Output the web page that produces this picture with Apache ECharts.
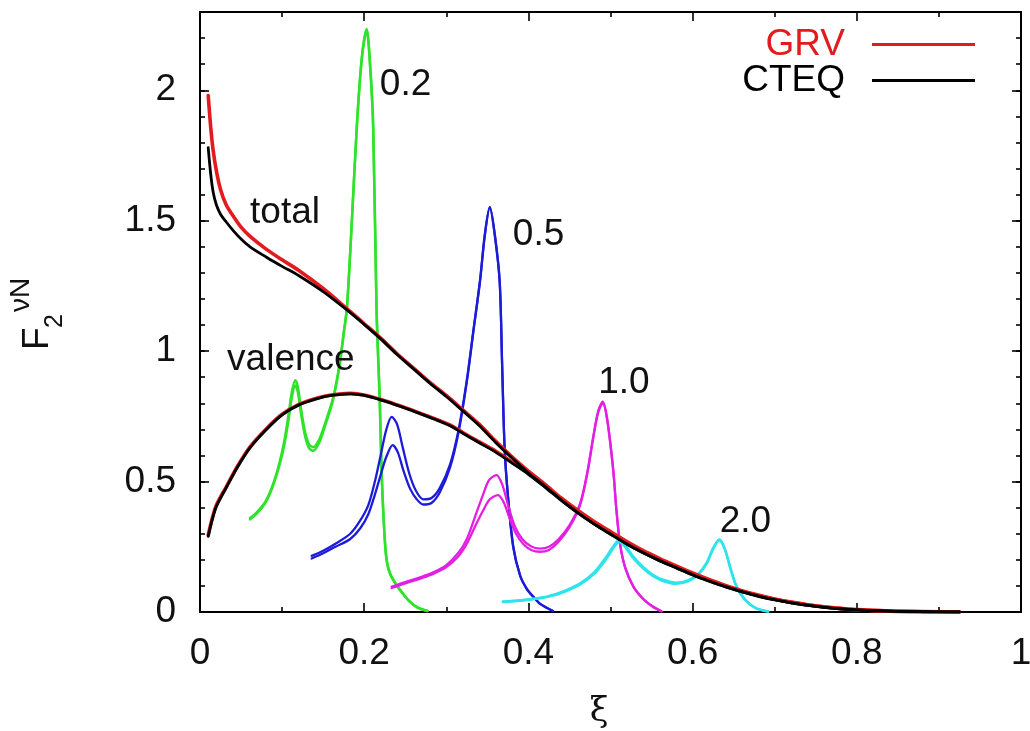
<!DOCTYPE html>
<html>
<head>
<meta charset="utf-8">
<script src="https://cdn.jsdelivr.net/npm/echarts@6/dist/echarts.min.js"></script>
<style>
  html, body { margin: 0; padding: 0; background: #fff; }
  #chart { width: 1030px; height: 731px; }
</style>
</head>
<body>
<div id="chart"></div>
<script>
// Neutrino structure function F2 vs Nachtmann variable xi: total and valence
// (GRV / CTEQ parton densities) plus resonance curves at Q^2 = 0.2, 0.5, 1.0, 2.0 GeV^2.

const xTicks = [0, 0.2, 0.4, 0.6, 0.8, 1];
const yTicks = [0, 0.5, 1, 1.5, 2];

// total F2, GRV
const totalGRV = [
  [0.010, 1.98], [0.013, 1.86], [0.016, 1.77], [0.020, 1.69], [0.025, 1.62], [0.032, 1.56],
  [0.041, 1.515], [0.050, 1.475], [0.061, 1.44], [0.081, 1.39], [0.100, 1.35], [0.120, 1.31],
  [0.150, 1.24], [0.180, 1.16], [0.200, 1.105], [0.220, 1.05], [0.240, 0.99], [0.260, 0.935],
  [0.280, 0.88], [0.300, 0.83], [0.320, 0.775], [0.340, 0.72], [0.360, 0.655], [0.380, 0.595],
  [0.400, 0.54], [0.420, 0.49], [0.440, 0.437], [0.460, 0.39], [0.480, 0.347], [0.500, 0.308],
  [0.520, 0.27], [0.540, 0.235], [0.560, 0.205], [0.580, 0.177], [0.600, 0.15], [0.620, 0.125],
  [0.640, 0.102], [0.660, 0.082], [0.680, 0.065], [0.700, 0.05], [0.720, 0.038], [0.740, 0.028],
  [0.760, 0.02], [0.780, 0.014], [0.800, 0.009], [0.840, 0.004], [0.880, 0.0015], [0.925, 0.0]
];

// total F2, CTEQ
const totalCTEQ = [
  [0.010, 1.78], [0.013, 1.68], [0.016, 1.61], [0.020, 1.56], [0.025, 1.525], [0.032, 1.495],
  [0.041, 1.46], [0.050, 1.43], [0.061, 1.40], [0.081, 1.36], [0.100, 1.325], [0.120, 1.29],
  [0.150, 1.228], [0.180, 1.155], [0.200, 1.102], [0.220, 1.047], [0.240, 0.987], [0.260, 0.932],
  [0.280, 0.877], [0.300, 0.826], [0.320, 0.771], [0.340, 0.715], [0.360, 0.65], [0.380, 0.59],
  [0.400, 0.533], [0.420, 0.482], [0.440, 0.429], [0.460, 0.381], [0.480, 0.338], [0.500, 0.299],
  [0.520, 0.261], [0.540, 0.227], [0.560, 0.197], [0.580, 0.17], [0.600, 0.143], [0.620, 0.119],
  [0.640, 0.097], [0.660, 0.078], [0.680, 0.061], [0.700, 0.047], [0.720, 0.035], [0.740, 0.026],
  [0.760, 0.018], [0.780, 0.012], [0.800, 0.008], [0.840, 0.003], [0.880, 0.001], [0.925, 0.0]
];

// valence F2, GRV
const valenceGRV = [
  [0.010, 0.295], [0.015, 0.36], [0.020, 0.41], [0.032, 0.48], [0.045, 0.555], [0.061, 0.633],
  [0.080, 0.70], [0.100, 0.758], [0.120, 0.795], [0.142, 0.819], [0.160, 0.832], [0.183, 0.838],
  [0.200, 0.832], [0.223, 0.812], [0.244, 0.79], [0.264, 0.767], [0.285, 0.742], [0.305, 0.716],
  [0.320, 0.688], [0.340, 0.652], [0.360, 0.617], [0.380, 0.575], [0.400, 0.532], [0.420, 0.484],
  [0.440, 0.433], [0.460, 0.386], [0.480, 0.343], [0.500, 0.304], [0.520, 0.266], [0.540, 0.231],
  [0.560, 0.201], [0.580, 0.173], [0.600, 0.147], [0.620, 0.122], [0.640, 0.1], [0.660, 0.08],
  [0.680, 0.063], [0.700, 0.049], [0.720, 0.037], [0.740, 0.027], [0.760, 0.019], [0.780, 0.013],
  [0.800, 0.0085], [0.840, 0.0035], [0.880, 0.0012], [0.925, 0.0]
];

// valence F2, CTEQ
const valenceCTEQ = [
  [0.010, 0.29], [0.015, 0.355], [0.020, 0.405], [0.032, 0.477], [0.045, 0.552], [0.061, 0.63],
  [0.080, 0.697], [0.100, 0.756], [0.120, 0.793], [0.142, 0.817], [0.160, 0.83], [0.183, 0.836],
  [0.200, 0.83], [0.223, 0.81], [0.244, 0.788], [0.264, 0.765], [0.285, 0.74], [0.305, 0.713],
  [0.320, 0.685], [0.340, 0.649], [0.360, 0.613], [0.380, 0.571], [0.400, 0.528], [0.420, 0.479],
  [0.440, 0.428], [0.460, 0.38], [0.480, 0.337], [0.500, 0.298], [0.520, 0.26], [0.540, 0.226],
  [0.560, 0.196], [0.580, 0.169], [0.600, 0.142], [0.620, 0.118], [0.640, 0.096], [0.660, 0.077],
  [0.680, 0.06], [0.700, 0.046], [0.720, 0.035], [0.740, 0.025], [0.760, 0.018], [0.780, 0.012],
  [0.800, 0.008], [0.840, 0.003], [0.880, 0.001], [0.925, 0.0]
];

// resonance region, Q^2 = 0.2
const res02GRV = [
  [0.061, 0.36], [0.070, 0.385], [0.080, 0.425], [0.089, 0.49], [0.097, 0.575], [0.103, 0.66],
  [0.108, 0.76], [0.112, 0.845], [0.116, 0.888], [0.119, 0.865], [0.123, 0.78], [0.128, 0.69],
  [0.133, 0.642], [0.138, 0.632], [0.145, 0.66], [0.152, 0.72], [0.162, 0.82], [0.170, 0.95],
  [0.175, 1.07], [0.179, 1.17], [0.185, 1.5], [0.191, 1.86], [0.197, 2.12], [0.203, 2.235],
  [0.207, 2.11], [0.211, 1.86], [0.215, 1.17], [0.219, 0.81], [0.221, 0.56], [0.224, 0.34],
  [0.227, 0.21], [0.232, 0.145], [0.244, 0.084], [0.255, 0.042], [0.265, 0.018], [0.277, 0.004]
];
const res02CTEQ = [
  [0.061, 0.355], [0.070, 0.38], [0.080, 0.42], [0.089, 0.485], [0.097, 0.565], [0.103, 0.645],
  [0.108, 0.74], [0.112, 0.825], [0.116, 0.868], [0.119, 0.845], [0.123, 0.762], [0.128, 0.674],
  [0.133, 0.627], [0.138, 0.618], [0.145, 0.648], [0.152, 0.71], [0.162, 0.812], [0.170, 0.945],
  [0.175, 1.065], [0.179, 1.165], [0.185, 1.5], [0.191, 1.86], [0.197, 2.12], [0.203, 2.23],
  [0.207, 2.1], [0.211, 1.85], [0.215, 1.16], [0.219, 0.8], [0.221, 0.55], [0.224, 0.335],
  [0.227, 0.205], [0.232, 0.142], [0.244, 0.082], [0.255, 0.041], [0.265, 0.017], [0.277, 0.004]
];

// resonance region, Q^2 = 0.5
const res05GRV = [
  [0.136, 0.215], [0.150, 0.235], [0.165, 0.262], [0.183, 0.30], [0.195, 0.35], [0.205, 0.41],
  [0.213, 0.50], [0.220, 0.60], [0.227, 0.70], [0.2335, 0.748], [0.240, 0.72], [0.247, 0.63],
  [0.255, 0.53], [0.263, 0.465], [0.272, 0.432], [0.282, 0.437], [0.292, 0.475], [0.3045, 0.565],
  [0.315, 0.70], [0.325, 0.89], [0.333, 1.08], [0.341, 1.27], [0.347, 1.45], [0.353, 1.553],
  [0.359, 1.45], [0.365, 1.27], [0.368, 0.95], [0.371, 0.633], [0.375, 0.45], [0.3816, 0.25],
  [0.390, 0.14], [0.398, 0.09], [0.406, 0.059], [0.415, 0.03], [0.430, 0.004]
];
const res05CTEQ = [
  [0.136, 0.205], [0.150, 0.225], [0.165, 0.25], [0.183, 0.28], [0.195, 0.32], [0.205, 0.375],
  [0.213, 0.45], [0.220, 0.525], [0.227, 0.595], [0.2347, 0.64], [0.241, 0.612], [0.248, 0.54],
  [0.256, 0.472], [0.264, 0.432], [0.272, 0.412], [0.282, 0.418], [0.292, 0.458], [0.3045, 0.553],
  [0.315, 0.69], [0.325, 0.882], [0.333, 1.075], [0.341, 1.265], [0.347, 1.445], [0.353, 1.55],
  [0.359, 1.445], [0.365, 1.265], [0.368, 0.945], [0.371, 0.628], [0.375, 0.445], [0.3816, 0.247],
  [0.390, 0.138], [0.398, 0.088], [0.406, 0.058], [0.415, 0.029], [0.430, 0.004]
];

// resonance region, Q^2 = 1.0
const res10GRV = [
  [0.2335, 0.097], [0.250, 0.115], [0.270, 0.135], [0.284, 0.152], [0.300, 0.18], [0.315, 0.228],
  [0.325, 0.28], [0.335, 0.365], [0.345, 0.452], [0.352, 0.505], [0.361, 0.525], [0.368, 0.49],
  [0.375, 0.412], [0.383, 0.332], [0.392, 0.282], [0.403, 0.252], [0.414, 0.243], [0.425, 0.25],
  [0.437, 0.28], [0.450, 0.332], [0.463, 0.416], [0.472, 0.54], [0.479, 0.672], [0.485, 0.77],
  [0.4905, 0.806], [0.496, 0.74], [0.5034, 0.544], [0.507, 0.40], [0.5116, 0.263], [0.518, 0.17],
  [0.528, 0.097], [0.540, 0.05], [0.552, 0.02], [0.562, 0.003]
];
const res10CTEQ = [
  [0.2335, 0.092], [0.250, 0.11], [0.270, 0.13], [0.284, 0.146], [0.300, 0.172], [0.315, 0.215],
  [0.325, 0.262], [0.335, 0.328], [0.345, 0.39], [0.353, 0.432], [0.363, 0.448], [0.370, 0.42],
  [0.377, 0.36], [0.385, 0.30], [0.394, 0.26], [0.404, 0.237], [0.414, 0.231], [0.425, 0.238],
  [0.437, 0.27], [0.450, 0.325], [0.463, 0.41], [0.472, 0.535], [0.479, 0.668], [0.485, 0.765],
  [0.4905, 0.8], [0.496, 0.735], [0.5034, 0.54], [0.507, 0.397], [0.5116, 0.26], [0.518, 0.168],
  [0.528, 0.096], [0.540, 0.049], [0.552, 0.019], [0.562, 0.003]
];

// resonance region, Q^2 = 2.0
const res20GRV = [
  [0.369, 0.04], [0.390, 0.045], [0.410, 0.053], [0.422, 0.059], [0.440, 0.076], [0.463, 0.11],
  [0.480, 0.152], [0.495, 0.212], [0.504, 0.255], [0.5107, 0.276], [0.517, 0.26], [0.528, 0.212],
  [0.540, 0.172], [0.552, 0.142], [0.564, 0.124], [0.580, 0.112], [0.595, 0.122], [0.607, 0.147],
  [0.617, 0.188], [0.625, 0.245], [0.6326, 0.278], [0.639, 0.245], [0.6456, 0.174], [0.652, 0.11],
  [0.658, 0.072], [0.668, 0.035], [0.678, 0.014], [0.692, 0.002]
];
const res20CTEQ = [
  [0.369, 0.038], [0.390, 0.043], [0.410, 0.051], [0.422, 0.057], [0.440, 0.073], [0.463, 0.106],
  [0.480, 0.146], [0.495, 0.204], [0.504, 0.247], [0.5107, 0.268], [0.517, 0.252], [0.528, 0.205],
  [0.540, 0.166], [0.552, 0.137], [0.564, 0.119], [0.580, 0.108], [0.595, 0.118], [0.607, 0.143],
  [0.617, 0.184], [0.625, 0.242], [0.6326, 0.275], [0.639, 0.242], [0.6456, 0.172], [0.652, 0.108],
  [0.658, 0.071], [0.668, 0.034], [0.678, 0.013], [0.692, 0.002]
];

const RED = '#e41b1e';
const BLACK = '#000000';
const GREEN = '#30e22c';
const BLUE = '#1c1cd8';
const MAGENTA = '#e21fe2';
const CYAN = '#2ee4ec';
const FONT = "'Liberation Sans', Arial, Helvetica, sans-serif";
const FS = 37;

function curve(name, data, color, width, z) {
  return {
    name: name,
    type: 'line',
    data: data,
    showSymbol: false,
    symbol: 'none',
    smooth: 0.3,
    silent: true,
    z: z,
    lineStyle: { color: color, width: width, cap: 'round', join: 'round' },
    itemStyle: { color: color }
  };
}

const series = [
  curve('GRV Q2=0.2', res02GRV, GREEN, 2.5, 2),
  curve('CTEQ Q2=0.2', res02CTEQ, GREEN, 2.5, 2),
  curve('GRV Q2=0.5', res05GRV, BLUE, 2.3, 2),
  curve('CTEQ Q2=0.5', res05CTEQ, BLUE, 2.3, 2),
  curve('GRV Q2=1.0', res10GRV, MAGENTA, 2.3, 2),
  curve('CTEQ Q2=1.0', res10CTEQ, MAGENTA, 2.3, 2),
  curve('GRV Q2=2.0', res20GRV, CYAN, 2.5, 2),
  curve('CTEQ Q2=2.0', res20CTEQ, CYAN, 2.5, 2),
  curve('GRV', totalGRV, RED, 3.6, 3),
  curve('GRV valence', valenceGRV, RED, 3.6, 3),
  curve('CTEQ', totalCTEQ, BLACK, 2.8, 4),
  curve('CTEQ valence', valenceCTEQ, BLACK, 2.8, 4)
];

const frameLine = { show: true, onZero: false, lineStyle: { color: '#000', width: 2 } };
const tickStyle = { color: '#000', width: 1.6 };

function xAxisDef(pos, withLabels) {
  return {
    type: 'value', position: pos, min: 0, max: 1, interval: 0.2,
    axisLine: frameLine,
    axisTick: { show: true, inside: true, length: 9, lineStyle: tickStyle },
    minorTick: { show: true, splitNumber: 2, length: 5, lineStyle: tickStyle },
    splitLine: { show: false },
    axisLabel: withLabels ? {
      show: true, fontSize: FS, fontFamily: FONT, color: '#111', margin: 23,
      formatter: v => String(+v.toFixed(1))
    } : { show: false }
  };
}

function yAxisDef(pos, step, tickLen, withLabels) {
  return {
    type: 'value', position: pos, min: 0, max: 2.3, interval: step, offset: 0,
    axisLine: frameLine,
    axisTick: { show: true, inside: true, length: tickLen, lineStyle: tickStyle },
    splitLine: { show: false },
    axisLabel: withLabels ? {
      show: true, fontSize: FS, fontFamily: FONT, color: '#111', margin: 24,
      showMaxLabel: false,
      formatter: v => (yTicks.indexOf(+v.toFixed(1)) >= 0 ? String(+v.toFixed(1)) : '')
    } : { show: false }
  };
}

const chart = echarts.init(document.getElementById('chart'), null, { renderer: 'canvas' });

chart.setOption({
  animation: false,
  backgroundColor: '#ffffff',
  grid: { left: 200, right: 9, top: 12, bottom: 119, containLabel: false, outerBoundsMode: 'none' },
  xAxis: [
    xAxisDef('bottom', true),
    xAxisDef('top', false)
  ],
  yAxis: [
    yAxisDef('left', 0.5, 9, true),
    yAxisDef('left', 0.1, 5, false),
    yAxisDef('right', 0.5, 9, false),
    yAxisDef('right', 0.1, 5, false)
  ],
  legend: {
    show: true,
    data: [
      { name: 'GRV', icon: 'rect', itemStyle: { color: RED }, textStyle: { color: RED } },
      { name: 'CTEQ', icon: 'rect', itemStyle: { color: BLACK }, textStyle: { color: BLACK } }
    ],
    orient: 'vertical',
    right: 50,
    top: 20,
    align: 'right',
    itemWidth: 103,
    itemHeight: 3,
    itemGap: -3,
    selectedMode: false,
    formatter: name => '{n|' + name + '}',
    textStyle: {
      fontSize: FS, fontFamily: FONT, lineHeight: 39,
      rich: { n: { fontSize: FS, fontFamily: FONT, lineHeight: 39, padding: [0, 22, 0, 0] } }
    }
  },
  series: series
});

// text labels on the curves, anchored in data coordinates
const curveLabels = [
  { text: '0.2', at: [0.219, 2.02] },
  { text: '0.5', at: [0.381, 1.445] },
  { text: '1.0', at: [0.485, 0.877] },
  { text: '2.0', at: [0.633, 0.345] },
  { text: 'total', at: [0.061, 1.53] },
  { text: 'valence', at: [0.033, 0.968] }
];

const graphics = curveLabels.map(l => {
  const p = chart.convertToPixel({ gridIndex: 0 }, l.at);
  return {
    type: 'text', x: p[0], y: p[1], z: 10, silent: true,
    style: { text: l.text, fill: '#111', fontSize: FS, fontFamily: FONT, align: 'left', verticalAlign: 'middle' }
  };
});

// x-axis title, centred under the axis
const xMid = chart.convertToPixel({ xAxisIndex: 0 }, 0.486);
graphics.push({
  type: 'text', x: xMid, y: 712, silent: true,
  style: { text: 'ξ', fill: '#111', fontSize: 34, fontFamily: "'DejaVu Serif', 'Liberation Serif', serif", align: 'center', verticalAlign: 'middle' }
});

// rotated y-axis title  F_2^{νN}
graphics.push({
  type: 'group', x: 38, y: 350, rotation: Math.PI / 2, silent: true,
  children: [
    { type: 'text', x: 0, y: 0, style: { text: 'F', fill: '#111', fontSize: FS, fontFamily: FONT, align: 'left', verticalAlign: 'middle' } },
    { type: 'text', x: 22, y: 17, style: { text: '2', fill: '#111', fontSize: 25, fontFamily: FONT, align: 'left', verticalAlign: 'middle' } },
    { type: 'text', x: 38, y: -17, style: { text: 'νN', fill: '#111', fontSize: 28, fontFamily: FONT, align: 'left', verticalAlign: 'middle' } }
  ]
});

chart.setOption({ graphic: graphics });
</script>
</body>
</html>
